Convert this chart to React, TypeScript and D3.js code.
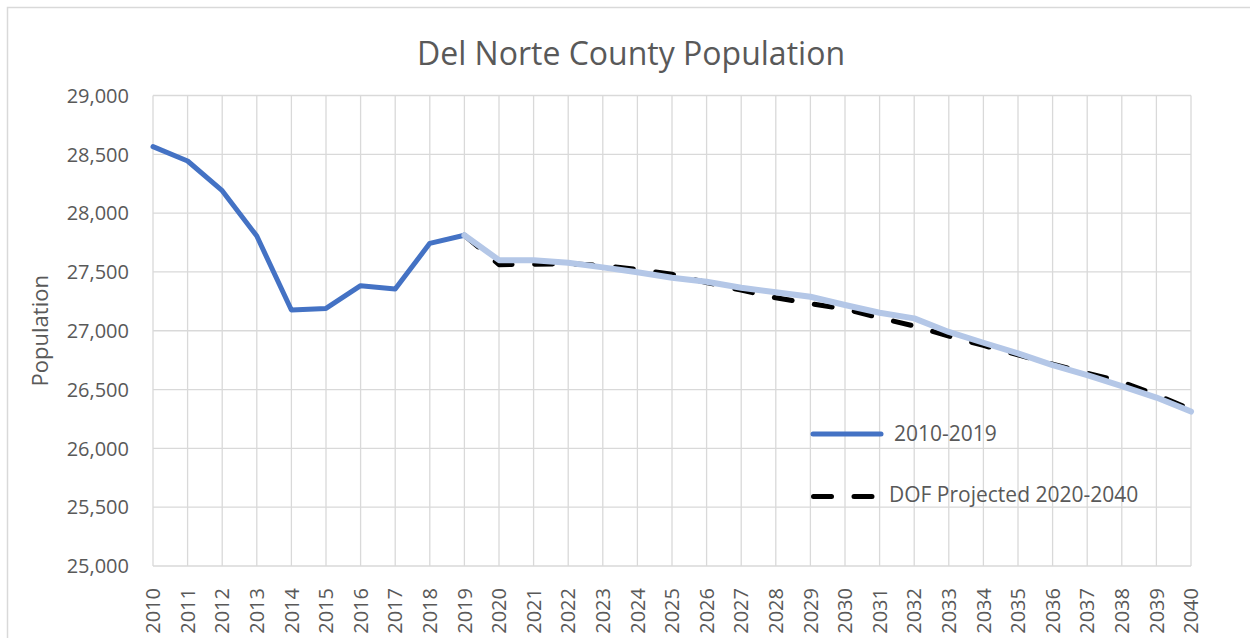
import { useEffect, useRef } from "react";
import * as d3 from "d3";

// x categories
const years = [
  2010, 2011, 2012, 2013, 2014, 2015, 2016, 2017, 2018, 2019, 2020, 2021,
  2022, 2023, 2024, 2025, 2026, 2027, 2028, 2029, 2030, 2031, 2032, 2033,
  2034, 2035, 2036, 2037, 2038, 2039, 2040,
];

// 2010-2019 estimates
const histYears = [2010, 2011, 2012, 2013, 2014, 2015, 2016, 2017, 2018, 2019];
const histValues = [
  28565, 28443, 28191, 27805, 27176, 27190, 27383, 27355, 27743, 27812,
];

// 2019-2040 projections
const projYears = [
  2019, 2020, 2021, 2022, 2023, 2024, 2025, 2026, 2027, 2028, 2029, 2030,
  2031, 2032, 2033, 2034, 2035, 2036, 2037, 2038, 2039, 2040,
];
const dofValues = [
  27812, 27562, 27565, 27570, 27555, 27520, 27480, 27410, 27345, 27280,
  27230, 27185, 27110, 27040, 26955, 26875, 26795, 26715, 26640, 26565,
  26455, 26330,
];
const trendValues = [
  27812, 27600, 27600, 27578, 27539, 27497, 27451, 27417, 27366, 27327,
  27289, 27219, 27153, 27105, 26990, 26898, 26808, 26708, 26623, 26530,
  26432, 26313,
];

const yTicks = [25000, 25500, 26000, 26500, 27000, 27500, 28000, 28500, 29000];

const FONT = "'Open Sans', 'Noto Sans', sans-serif";
const TEXT = "#595959";
const GRID = "#d9d9d9";

export default function App() {
  const svgRef = useRef<SVGSVGElement>(null);

  useEffect(() => {
    if (!svgRef.current) return;
    const width = 1250;
    const height = 638;
    const plot = { left: 153, right: 1191, top: 95.5, bottom: 566 };

    const svg = d3.select(svgRef.current);
    svg.selectAll("*").remove();
    svg.attr("width", width).attr("height", height);

    svg
      .append("rect")
      .attr("width", width)
      .attr("height", height)
      .attr("fill", "white");

    // chart border
    svg
      .append("rect")
      .attr("x", 7.5)
      .attr("y", 7.5)
      .attr("width", width + 20)
      .attr("height", height + 20)
      .attr("fill", "none")
      .attr("stroke", GRID)
      .attr("stroke-width", 1.5);

    const x = d3
      .scaleLinear()
      .domain([years[0], years[years.length - 1]])
      .range([plot.left, plot.right]);
    const y = d3
      .scaleLinear()
      .domain([yTicks[0], yTicks[yTicks.length - 1]])
      .range([plot.bottom, plot.top]);

    // grid
    const grid = svg.append("g").attr("stroke", GRID).attr("stroke-width", 1.3);
    grid
      .selectAll("line.v")
      .data(years)
      .enter()
      .append("line")
      .attr("x1", (d) => x(d))
      .attr("x2", (d) => x(d))
      .attr("y1", plot.top)
      .attr("y2", plot.bottom);
    grid
      .selectAll("line.h")
      .data(yTicks)
      .enter()
      .append("line")
      .attr("x1", plot.left)
      .attr("x2", plot.right)
      .attr("y1", (d) => y(d))
      .attr("y2", (d) => y(d));

    // y tick labels
    svg
      .append("g")
      .selectAll("text")
      .data(yTicks)
      .enter()
      .append("text")
      .attr("x", 129)
      .attr("y", (d) => y(d))
      .attr("dy", "0.36em")
      .attr("text-anchor", "end")
      .attr("font-family", FONT)
      .attr("font-size", 20)
      .attr("fill", TEXT)
      .text((d) => d3.format(",")(d));

    // x tick labels
    svg
      .append("g")
      .selectAll("text")
      .data(years)
      .enter()
      .append("text")
      .attr("transform", (d) => `translate(${x(d)},588) rotate(-90)`)
      .attr("dy", "0.36em")
      .attr("text-anchor", "end")
      .attr("font-family", FONT)
      .attr("font-size", 20)
      .attr("fill", TEXT)
      .text((d) => String(d));

    // axis title
    svg
      .append("text")
      .attr("transform", `translate(48,${(plot.top + plot.bottom) / 2}) rotate(-90)`)
      .attr("text-anchor", "middle")
      .attr("font-family", FONT)
      .attr("font-size", 22)
      .attr("fill", TEXT)
      .text("Population");

    // title
    svg
      .append("text")
      .attr("x", 631)
      .attr("y", 65)
      .attr("text-anchor", "middle")
      .attr("font-family", FONT)
      .attr("font-size", 32)
      .attr("fill", TEXT)
      .text("Del Norte County Population");

    const line = d3
      .line<[number, number]>()
      .x((d) => x(d[0]))
      .y((d) => y(d[1]));

    const hist = histYears.map((yr, i) => [yr, histValues[i]] as [number, number]);
    const dof = projYears.map((yr, i) => [yr, dofValues[i]] as [number, number]);
    const trend = projYears.map((yr, i) => [yr, trendValues[i]] as [number, number]);

    svg
      .append("path")
      .attr("d", line(hist))
      .attr("fill", "none")
      .attr("stroke", "#4472C4")
      .attr("stroke-width", 5)
      .attr("stroke-linejoin", "round")
      .attr("stroke-linecap", "round");

    svg
      .append("path")
      .attr("d", line(dof))
      .attr("fill", "none")
      .attr("stroke", "#000")
      .attr("stroke-width", 5)
      .attr("stroke-dasharray", "18 22.5")
      .attr("stroke-linejoin", "round")
      .attr("stroke-linecap", "round");

    svg
      .append("path")
      .attr("d", line(trend))
      .attr("fill", "none")
      .attr("stroke", "#B4C7E7")
      .attr("stroke-width", 6)
      .attr("stroke-linejoin", "round")
      .attr("stroke-linecap", "round");

    // legend
    const legend = svg.append("g");
    legend
      .append("line")
      .attr("x1", 813)
      .attr("x2", 881)
      .attr("y1", 434)
      .attr("y2", 434)
      .attr("stroke", "#4472C4")
      .attr("stroke-width", 5)
      .attr("stroke-linecap", "round");
    legend
      .append("text")
      .attr("x", 894)
      .attr("y", 441)
      .attr("font-family", FONT)
      .attr("font-size", 21)
      .attr("fill", TEXT)
      .text("2010-2019");
    legend
      .append("line")
      .attr("x1", 813.5)
      .attr("x2", 876)
      .attr("y1", 496.5)
      .attr("y2", 496.5)
      .attr("stroke", "#000")
      .attr("stroke-width", 5)
      .attr("stroke-dasharray", "18 22.5")
      .attr("stroke-linecap", "round");
    legend
      .append("text")
      .attr("x", 889)
      .attr("y", 502)
      .attr("font-family", FONT)
      .attr("font-size", 21)
      .attr("fill", TEXT)
      .text("DOF Projected 2020-2040");
  }, []);

  return (
    <svg
      ref={svgRef}
      style={{ position: "absolute", left: 0, top: 0, display: "block" }}
    />
  );
}
